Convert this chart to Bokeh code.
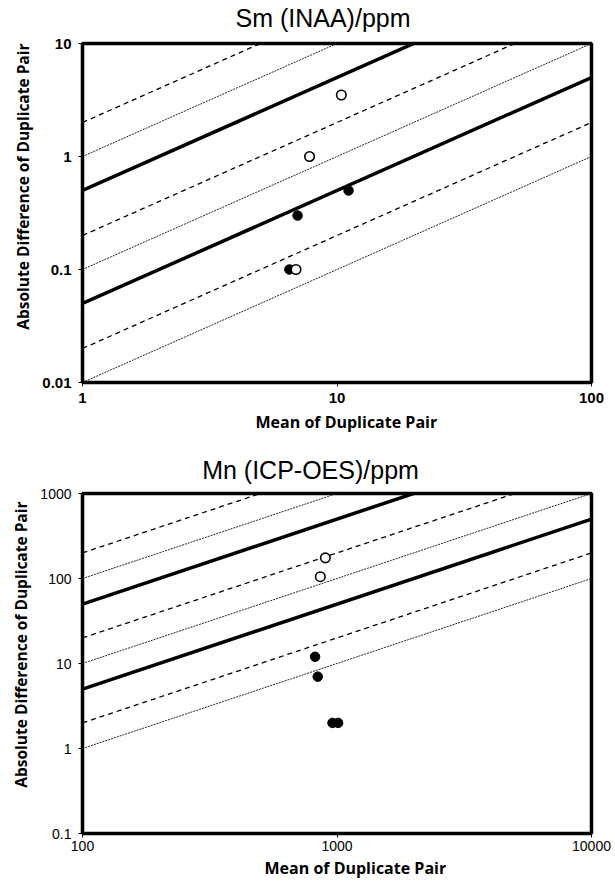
import math
from bokeh.plotting import figure
from bokeh.layouts import column
from bokeh.models import Range1d, FixedTicker, CustomJSTickFormatter, Title, LogAxis
from bokeh.embed import file_html
from bokeh.resources import INLINE

# ---------------- data ----------------
# Sm (INAA)/ppm
sm_title = "Sm (INAA)/ppm"
sm_x_range = [1, 100]
sm_y_range = [0.01, 10]
sm_x_ticks = [1, 10, 100]
sm_y_ticks = [0.01, 0.1, 1, 10]
sm_open_x = [10.4, 7.8, 6.9]
sm_open_y = [3.5, 1.0, 0.1]
sm_fill_x = [6.5, 7.0, 11.1]
sm_fill_y = [0.1, 0.3, 0.5]

# Mn (ICP-OES)/ppm
mn_title = "Mn (ICP-OES)/ppm"
mn_x_range = [100, 10000]
mn_y_range = [0.1, 1000]
mn_x_ticks = [100, 1000, 10000]
mn_y_ticks = [0.1, 1, 10, 100, 1000]
mn_open_x = [900, 860]
mn_open_y = [175, 105]
mn_fill_x = [820, 840, 960, 1010]
mn_fill_y = [12, 7, 2, 2]

# precision reference lines: |difference| = k * mean
thick_k = [0.5, 0.05]
dashed_k = [2, 0.2, 0.02]
dotted_k = [1, 0.1, 0.01]

x_label = "Mean of Duplicate Pair"
y_label = "Absolute Difference of Duplicate Pair"


def make_chart(title, xr, yr, xt, yt, ox, oy, fx, fy, g, tick_bold):
    p = figure(width=g["bl"] + g["fw"] + g["br"], height=g["bt"] + g["fh"] + g["bb"],
               x_axis_type="log", y_axis_type="log",
               x_range=Range1d(*xr), y_range=Range1d(*yr),
               output_backend="svg", toolbar_location=None,
               min_border_left=g["bl"], min_border_right=g["br"],
               min_border_top=g["bt"], min_border_bottom=g["bb"])
    p.grid.visible = False
    p.outline_line_color = "black"
    p.outline_line_width = 3.5
    p.background_fill_color = "white"
    p.border_fill_color = "white"

    fmt = CustomJSTickFormatter(code="return String(tick);")
    for ax, ticks, so in ((p.xaxis[0], xt, g["so_x"]), (p.yaxis[0], yt, g["so_y"])):
        ax.ticker = FixedTicker(ticks=ticks, minor_ticks=[])
        ax.formatter = fmt
        ax.axis_line_color = None
        ax.major_tick_line_color = "black"
        ax.major_tick_line_width = 1
        ax.major_tick_out = 4
        ax.major_tick_in = 0
        ax.minor_tick_line_color = None
        ax.major_label_text_font = "Liberation Sans"
        ax.major_label_text_font_size = g["tick_size"]
        ax.major_label_text_font_style = "bold" if tick_bold else "normal"
        ax.major_label_text_color = "black"
        ax.major_label_standoff = so

    x0, x1 = xr
    for k in dotted_k:
        p.line([x0, x1], [k * x0, k * x1], line_color="#222222", line_width=1, line_dash="2 1")
    for k in dashed_k:
        p.line([x0, x1], [k * x0, k * x1], line_color="black", line_width=1.3, line_dash="5 4")
    for k in thick_k:
        p.line([x0, x1], [k * x0, k * x1], line_color="black", line_width=3.5)

    p.scatter(fx, fy, marker="circle", size=9.5, fill_color="black", line_color="black", line_width=1)
    p.scatter(ox, oy, marker="circle", size=9.5, fill_color="white", line_color="black", line_width=1.6)

    # chart title: a label-only axis above the frame, centred at a fraction of the frame width
    lo, hi = math.log10(x0), math.log10(x1)
    t_pos = 10 ** (lo + g["t_frac"] * (hi - lo))
    tax = LogAxis(ticker=FixedTicker(ticks=[t_pos], minor_ticks=[]),
                  formatter=CustomJSTickFormatter(args=dict(t=title), code="return t;"),
                  axis_line_color=None, major_tick_line_color=None, minor_tick_line_color=None,
                  major_tick_out=0, major_tick_in=0, major_label_standoff=g["t_so"],
                  major_label_text_font="Liberation Sans", major_label_text_font_size="25px",
                  major_label_text_font_style="normal", major_label_text_color="black")
    p.add_layout(tax, "above")

    p.add_layout(Title(text=x_label, text_font="Open Sans", text_font_size="16px",
                       text_font_style="bold", text_color="black", align="left",
                       vertical_align="top", offset=g["x_off"], standoff=g["x_so"]), "below")
    p.add_layout(Title(text=y_label, text_font="Open Sans", text_font_size="15.5px",
                       text_font_style="bold", text_color="black", align="right",
                       vertical_align="bottom", offset=g["y_off"], standoff=g["y_so"]), "left")
    return p


top_geom = dict(fw=510, fh=339, bl=81, br=24, bt=43, bb=58, tick_size="15px", so_x=6, so_y=7,
                t_frac=0.4725, t_so=12, x_off=173, x_so=10, y_off=0, y_so=12)
bot_geom = dict(fw=513, fh=340, bl=82, br=20, bt=53, bb=51, tick_size="14px", so_x=3, so_y=7,
                t_frac=0.448, t_so=10, x_off=182, x_so=6, y_off=8, y_so=12)

p1 = make_chart(sm_title, sm_x_range, sm_y_range, sm_x_ticks, sm_y_ticks,
                sm_open_x, sm_open_y, sm_fill_x, sm_fill_y, top_geom, True)
p2 = make_chart(mn_title, mn_x_range, mn_y_range, mn_x_ticks, mn_y_ticks,
                mn_open_x, mn_open_y, mn_fill_x, mn_fill_y, bot_geom, False)

layout = column(p1, p2, spacing=0)
open("out.html", "w").write(file_html(layout, INLINE))
